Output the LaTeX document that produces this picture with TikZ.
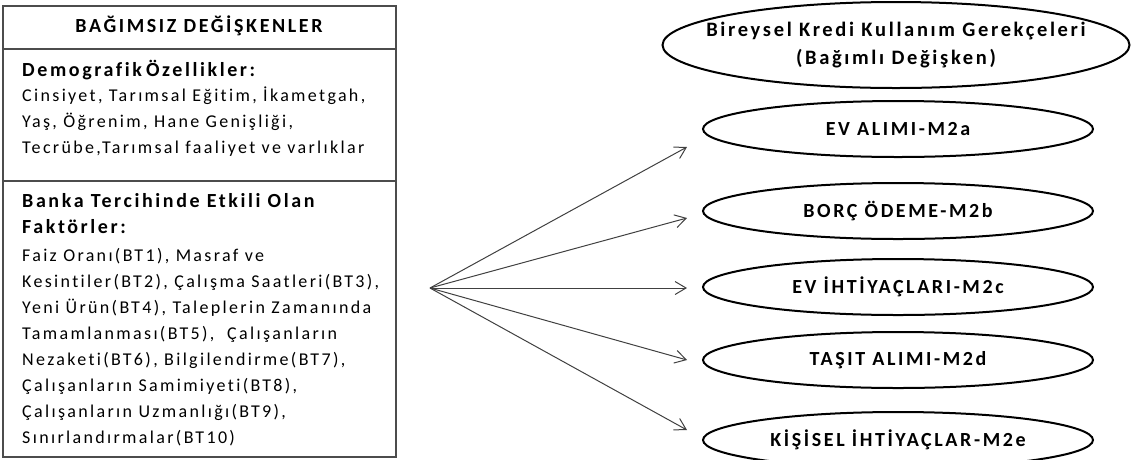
\documentclass[tikz,border=0pt]{standalone}
\usepackage{fontspec}
\setmainfont{Carlito}[LetterSpace=13,Ligatures=NoCommon]
\usetikzlibrary{shapes.geometric}
\usetikzlibrary{arrows.meta}
\usetikzlibrary{positioning}

\tikzset{
  oval/.style={draw=black, line width=2pt, ellipse, minimum width=390pt,
    minimum height=56pt, inner sep=0pt, font=\fontsize{20}{22}\selectfont\bfseries},
  frame/.style={draw=black!70, line width=1.4pt},
  head/.style={anchor=base west, inner sep=0pt, align=left,
    font=\fontsize{20}{26}\selectfont\bfseries},
  body/.style={anchor=base west, inner sep=0pt, align=left,
    font=\fontsize{18}{26}\selectfont},
  link/.style={draw=black!75, line width=1pt,
    -{Straight Barb[length=11pt,width=13pt]}},
}

\begin{document}
\begin{tikzpicture}[x=1pt,y=-1pt]

  \useasboundingbox (0,0) rectangle (1131,459);

  % left frame: independent variables
  \draw[frame] (3,6) rectangle (396,457);
  \draw[frame] (3,49) -- (396,49);
  \draw[frame] (3,181) -- (396,181);

  \node[font=\fontsize{20}{22}\selectfont\bfseries, inner sep=0pt]
    (indep) at (199,26) {BAĞIMSIZ DEĞİŞKENLER};

  % (base anchor sits on the last line)
  \node[head] (demo) at (22,76) {Demografik\hspace{-3pt} Özellikler:};
  \node[body] (demotxt) at (22,153) {Cinsiyet, Tarımsal Eğitim, İkametgah,\\
    Yaş, Öğrenim, Hane Genişliği,\\
    Tecrübe,Tarımsal faaliyet ve varlıklar};

  \node[head] (bank) at (22,233) {Banka Tercihinde Etkili Olan\\Faktörler:};
  \node[body] (banktxt) at (22,443) {Faiz Oranı(BT1), Masraf ve\\
    Kesintiler(BT2), Çalışma Saatleri(BT3),\\
    Yeni Ürün(BT4), Taleplerin Zamanında\\
    Tamamlanması(BT5), \ Çalışanların\\
    Nezaketi(BT6), Bilgilendirme(BT7),\\
    Çalışanların Samimiyeti(BT8),\\
    Çalışanların Uzmanlığı(BT9),\\
    Sınırlandırmalar(BT10)};

  % dependent variables
  \node[oval, minimum width=467pt, minimum height=86pt, inner xsep=-30pt,
    align=center, font=\fontsize{20.5}{28}\selectfont\bfseries]
    (dep) at (896,45) {Bireysel Kredi Kullanım Gerekçeleri\\(Bağımlı Değişken)};

  \node[oval] (ea) at (898,129) {EV ALIMI-M2a};
  \node[oval] (eb) at (898,211) {BORÇ ÖDEME-M2b};
  \node[oval] (ec) at (898,287) {EV İHTİYAÇLARI-M2c};
  \node[oval] (ed) at (898,360) {TAŞIT ALIMI-M2d};
  \node[oval] (ee) at (898,440) {KİŞİSEL İHTİYAÇLAR-M2e};

  % fan of arrows
  \coordinate (src) at (430,288);
  \coordinate (ta) at (687,147);
  \coordinate (tb) at (687,218);
  \coordinate (tc) at (687,288);
  \coordinate (td) at (687,360);
  \coordinate (te) at (687,430);

  \foreach \t in {ta,tb,tc,td,te}
    \draw[link] (src) -- (\t);

\end{tikzpicture}
\end{document}
